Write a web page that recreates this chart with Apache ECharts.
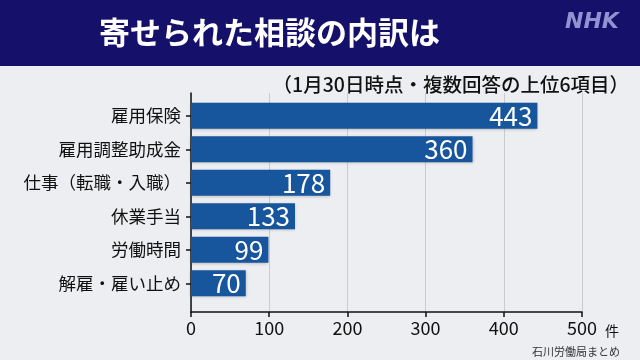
<!DOCTYPE html>
<html><head><meta charset="utf-8">
<script src="https://cdn.jsdelivr.net/npm/echarts@6/dist/echarts.min.js"></script>
<style>
html,body{margin:0;padding:0;}
#c{width:640px;height:360px;background:linear-gradient(to bottom,#15116a 0,#15116a 66px,#eceef1 66px,#eceef1 100%);}
</style></head>
<body><div id="c"></div>
<script>
const categories = ['雇用保険','雇用調整助成金','仕事（転職・入職）','休業手当','労働時間','解雇・雇い止め'];
const counts = [443, 360, 178, 133, 99, 70];
const xTicks = [0, 100, 200, 300, 400, 500];
const titleText = '寄せられた相談の内訳は';
const subtitleText = '（1月30日時点・複数回答の上位6項目）';
const unitText = '件';
const sourceText = '石川労働局まとめ';

const FONT = '"Noto Sans CJK JP","Noto Sans",sans-serif';
const chart = echarts.init(document.getElementById('c'));
chart.setOption({
  backgroundColor: 'transparent',
  animation: false,
  textStyle: {fontFamily: FONT},
  title: [
    {text: titleText, left: 94, top: 12, textStyle: {color: '#fff', fontSize: 31, fontWeight: 'bold', fontFamily: FONT}},
    {text: 'NHK', left: 560, top: 6, textStyle: {color: '#9292d0', fontSize: 22, fontWeight: 'bold', fontStyle: 'italic', fontFamily: '"DejaVu Sans",sans-serif'}},
    {text: subtitleText, right: 6, top: 70, textStyle: {color: '#111', fontSize: 19.5, fontWeight: 500, fontFamily: FONT}},
    {text: unitText, left: 600, top: 319, textStyle: {color: '#111', fontSize: 14, fontWeight: 'normal', fontFamily: FONT}},
    {text: sourceText, right: 15, top: 341, textStyle: {color: '#333', fontSize: 11, fontWeight: 'normal', fontFamily: FONT}}
  ],
  grid: [
    {left: 191, right: 58, top: 93, bottom: 48},
    {left: 191, right: 58, top: 99, height: 201}
  ],
  xAxis: [
    {gridIndex: 0, type: 'value', min: xTicks[0], max: xTicks[xTicks.length-1], interval: 100,
     axisLine: {show: true, lineStyle: {color: '#111', width: 1.5}},
     axisTick: {show: true, length: 5, lineStyle: {color: '#111', width: 1.5}},
     axisLabel: {color: '#111', fontSize: 18, margin: 7, fontFamily: FONT},
     splitLine: {show: true, lineStyle: {color: '#c9cbd0', width: 1}}},
    {gridIndex: 1, type: 'value', min: xTicks[0], max: xTicks[xTicks.length-1], show: false}
  ],
  yAxis: [
    {gridIndex: 0, type: 'value', min: 0, max: 1,
     axisLine: {show: true, lineStyle: {color: '#111', width: 1.5}},
     axisTick: {show: false}, axisLabel: {show: false}, splitLine: {show: false}},
    {gridIndex: 1, type: 'category', inverse: true, data: categories,
     axisLine: {show: false},
     axisTick: {show: true, alignWithLabel: true, length: 5, lineStyle: {color: '#111', width: 1.5}},
     axisLabel: {color: '#111', fontSize: 17.5, margin: 10, fontFamily: FONT},
     splitLine: {show: false}}
  ],
  series: [{
    type: 'bar', xAxisIndex: 1, yAxisIndex: 1, data: counts,
    barCategoryGap: '23%',
    itemStyle: {color: '#17559c', shadowColor: 'rgba(0,0,0,0.25)', shadowBlur: 3, shadowOffsetY: 1},
    label: {show: true, position: 'insideRight', distance: 5, color: '#fff', fontSize: 26, fontFamily: FONT}
  }]
});
</script></body></html>
